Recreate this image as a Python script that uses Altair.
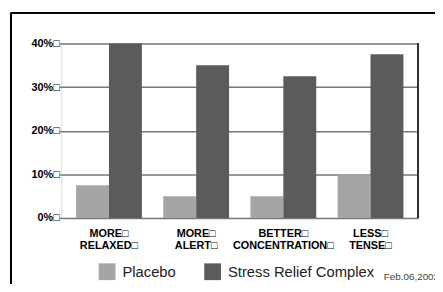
import altair as alt
import pandas as pd

categories = ["More Relaxed", "More Alert", "Better Concentration", "Less Tense"]
series = ["Placebo", "Stress Relief Complex"]
placebo = [7.5, 5, 5, 10]
stress = [40, 35, 32.5, 37.5]
y_ticks = [0, 10, 20, 30, 40]
date_text = "Feb.06,2002"
colors = ["#a5a5a5", "#5b5b5b"]

rows = []
for c, p, s in zip(categories, placebo, stress):
    rows.append({"cat": c, "series": series[0], "value": p})
    rows.append({"cat": c, "series": series[1], "value": s})
df = pd.DataFrame(rows)

W, H = 362, 177
FONT = "Liberation Sans"

bars = alt.Chart(df).mark_bar().encode(
    x=alt.X(
        "cat:N",
        sort=categories,
        scale=alt.Scale(paddingInner=0.245, paddingOuter=0.17),
        axis=alt.Axis(
            title=None,
            ticks=False,
            domain=False,
            labelAngle=0,
            labelFont=FONT,
            labelFontWeight="bold",
            labelFontSize=11,
            labelLineHeight=12,
            labelColor="#000",
            labelPadding=10,
            labelExpr="[upper(split(datum.label, ' ')[0]) + '□', upper(split(datum.label, ' ')[1]) + '□']",
        ),
    ),
    xOffset=alt.XOffset("series:N", sort=series, scale=alt.Scale(paddingInner=0, paddingOuter=0)),
    y=alt.Y(
        "value:Q",
        scale=alt.Scale(domain=[0, 40], nice=False),
        axis=alt.Axis(
            title=None,
            values=y_ticks,
            labelExpr="datum.value + '%□'",
            grid=True,
            gridColor="#777777",
            gridWidth=1.5,
            domain=False,
            tickSize=2,
            tickColor="#777777",
            tickWidth=1.5,
            labelPadding=0,
            labelFont=FONT,
            labelFontWeight="bold",
            labelFontSize=11,
            labelColor="#000",
        ),
    ),
    color=alt.Color(
        "series:N",
        scale=alt.Scale(domain=series, range=colors),
        legend=alt.Legend(
            title=None,
            orient="none",
            legendX=38,
            legendY=223,
            direction="horizontal",
            symbolType="square",
            symbolSize=289,
            symbolStrokeWidth=0,
            symbolOpacity=1,
            labelFont=FONT,
            labelFontSize=15,
            labelColor="#222",
            labelOffset=7,
            columnPadding=28,
            padding=0,
        ),
    ),
)

right_line = alt.Chart(df).mark_rule(color="#333333", strokeWidth=1.5).encode(
    x=alt.value(W), y=alt.value(0), y2=alt.value(H)
)
frame_left = alt.Chart(df).mark_rule(color="#000000", strokeWidth=1).encode(
    x=alt.value(-51), y=alt.value(-31), y2=alt.value(260)
)
frame_top = alt.Chart(df).mark_rule(color="#000000", strokeWidth=1).encode(
    x=alt.value(-51), x2=alt.value(400), y=alt.value(-31)
)
date = alt.Chart(pd.DataFrame({"t": [date_text]})).mark_text(
    font=FONT, fontSize=10, color="#444", align="left", baseline="alphabetic"
).encode(x=alt.value(327), y=alt.value(240), text="t:N")

chart = alt.layer(bars, right_line, frame_left, frame_top, date).properties(
    width=W,
    height=H,
    autosize=alt.AutoSizeParams(type="none"),
    padding={"left": 54, "top": 34, "right": 17, "bottom": 65},
).configure_view(stroke=None).configure(background="#ffffff")

chart.save("out.html", embed_options={"renderer": "svg", "actions": False})
